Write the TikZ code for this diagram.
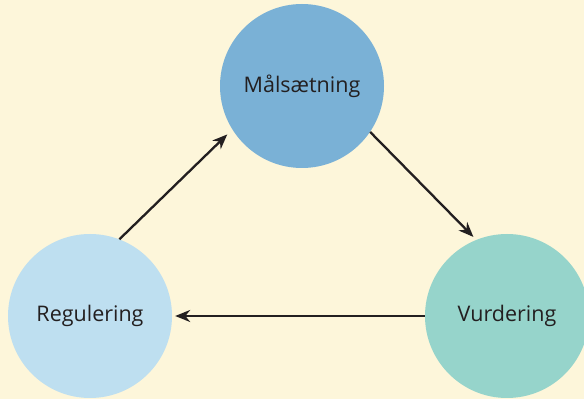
\documentclass[tikz,border=0pt]{standalone}
\usepackage{fontspec}
\setmainfont{Open Sans}
\usetikzlibrary{arrows.meta}

\definecolor{cream}{HTML}{FDF6DA}
\definecolor{goalblue}{HTML}{7AB1D6}
\definecolor{regblue}{HTML}{BEDFF0}
\definecolor{evalgreen}{HTML}{96D4CB}
\definecolor{ink}{HTML}{231F20}

\begin{document}
\begin{tikzpicture}[x=1pt, y=1pt,
		phase/.style={circle, minimum size=164pt, inner sep=0pt, text=ink, font=\fontsize{21.5}{25}\selectfont},
		flow/.style={-{Stealth[length=15pt, width=12pt]}, line width=2.3pt, draw=ink}]
			% \draw[help lines] (0,0) grid (584,399);
			\fill[cream] (0,0) rectangle (584,399);
			\useasboundingbox (0,0) rectangle (584,399);

			\node[phase, fill=goalblue] (goal) at (302,313) {Målsætning};
			\node[phase, fill=regblue] (regulation) at (90,83) {Regulering};
			\node[phase, fill=evalgreen] (evaluation) at (507,83) {Vurdering};

			\draw[flow, shorten >=4pt] (goal.-34) -- (evaluation.112);
			\draw[flow, shorten >=3pt] (evaluation.west) -- (regulation.east);
			\draw[flow, shorten >=7pt] (regulation.69) -- (goal.212);
		\end{tikzpicture}
\end{document}
